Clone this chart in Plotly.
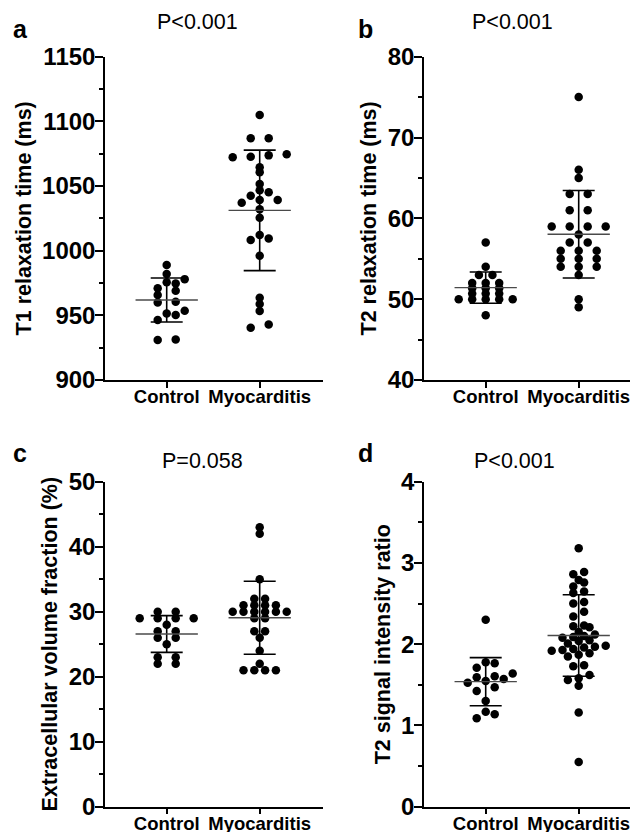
import numpy as np
import plotly.graph_objects as go

PAGE_W, PAGE_H = 638, 832
BODY = 8                      # default page margin of the browser
W, H = PAGE_W - BODY, PAGE_H - BODY
FONT = "Liberation Sans, Arial, Helvetica, sans-serif"

categories = ["Control", "Myocarditis"]

# Panel a: T1 relaxation time (ms)
t1_control = [989, 982, 978, 975.5, 974.7, 969, 971, 965.7, 960.5, 960,
              951.5, 953.6, 950.2, 946.4, 931, 931.4]
t1_myocarditis = [1105, 1087, 1087, 1074.5, 1073.7, 1072.7, 1072.2, 1064.5,
                  1060.6, 1051.5, 1046.7, 1045.1, 1042.5, 1039.2, 1039.2,
                  1037.1, 1032, 1025.5, 1009.5, 1008.2, 1012.1, 996.1,
                  963.6, 958.7, 953.3, 940.4, 943]

# Panel b: T2 relaxation time (ms)
t2_control = [57, 54, 53, 53, 52, 52, 52, 51.35, 51.35, 51.35, 50.7, 50.7,
              50.7, 50, 50, 50, 50, 50, 48]
t2_myocarditis = [75, 66, 65, 63, 63, 61, 61, 59, 59, 59, 59, 58, 57, 57,
                  56, 56, 56, 55, 55, 55, 54, 54, 54, 53, 50, 49]

# Panel c: Extracellular volume fraction (%)
ecv_control = [30, 30, 29, 29, 29, 29, 28, 27, 27, 26, 26, 25, 23, 23, 22, 22]
ecv_myocarditis = [43, 42, 35, 32, 32, 31, 31, 31, 31, 30, 30, 30, 30, 30, 30,
                   29, 29, 27, 27, 26, 24, 22, 21, 21, 21, 21]

# Panel d: T2 signal intensity ratio
t2sir_control = [2.30, 1.777, 1.765, 1.71, 1.64, 1.605, 1.593, 1.572, 1.547,
                 1.526, 1.469, 1.424, 1.30, 1.169, 1.137, 1.088]
t2sir_myocarditis = [3.18, 2.89, 2.86, 2.76, 2.79, 2.71, 2.63, 2.65, 2.52, 2.50,
                     2.40, 2.34, 2.21, 2.22, 2.23, 2.15, 2.08, 2.09, 2.10, 2.12,
                     2.04, 2.05, 1.96, 1.94, 1.97, 1.98, 2.01, 1.93, 1.92,
                     1.85, 1.87, 1.89, 1.73, 1.74, 1.62, 1.58, 1.56, 1.49,
                     1.16, 0.55]

panel_letters = ["a", "b", "c", "d"]
p_labels = ["P<0.001", "P<0.001", "P=0.058", "P<0.001"]
y_titles = ["T1 relaxation time (ms)", "T2 relaxation time (ms)",
            "Extracellular volume fraction (%)", "T2 signal intensity ratio"]
y_ranges = [[900, 1150], [40, 80], [0, 50], [0, 4]]
y_dticks = [50, 10, 10, 1]

groups = [(t1_control, t1_myocarditis), (t2_control, t2_myocarditis),
          (ecv_control, ecv_myocarditis), (t2sir_control, t2sir_myocarditis)]

# layout geometry (page pixels)
left_x = (105, 323)
right_x = (424, 637)
top_y = (56.7, 380.0)
bot_y = (481.7, 806.7)
cat_px = 93.0          # pixels between the two categories
lead_px = 61.7         # pixels from y-axis to first category

frames = [(left_x, top_y), (right_x, top_y), (left_x, bot_y), (right_x, bot_y)]
letter_pos = [(20, 29), (365, 29), (20, 453), (365, 453)]
p_pos = [(197.5, 22.5), (512, 22.5), (202, 461), (514, 461)]


def fx(px):
    return (px - BODY) / W


def fy(py):
    return 1 - (py - BODY) / H


def swarm_offsets(values, px_per_y, row_h=5.0, span=54.0, smax=18.0, clear=5.0):
    vals = np.asarray(values, float)
    order = np.argsort(vals, kind="stable")
    ypx = vals * px_per_y
    rows, cur = [], [order[0]]
    for idx in order[1:]:
        if ypx[idx] - ypx[cur[0]] < row_h:
            cur.append(idx)
        else:
            rows.append(cur)
            cur = [idx]
    rows.append(cur)
    maxn = max(len(r) for r in rows)
    s = smax if maxn <= 1 else min(smax, span / (maxn - 1))
    off = np.zeros(len(vals))
    placed = []
    for r in rows:
        n = len(r)
        base = [(i - (n - 1) / 2) * s for i in range(n)]
        chosen = 0.0
        for shift in [0, s / 2, -s / 2, s, -s, 1.5 * s, -1.5 * s]:
            ok = True
            for i, idx in enumerate(r):
                x = base[i] + shift
                for (qx, qy) in placed:
                    if np.hypot(x - qx, ypx[idx] - qy) < clear:
                        ok = False
                        break
                if not ok:
                    break
            if ok:
                chosen = shift
                break
            chosen = shift
        for i, idx in enumerate(r):
            off[idx] = base[i] + chosen
            placed.append((off[idx], ypx[idx]))
    return off


fig = go.Figure()
layout = dict(width=W, height=H, margin=dict(l=0, r=0, t=0, b=0, autoexpand=False),
              paper_bgcolor="white", plot_bgcolor="white", showlegend=False,
              font=dict(family=FONT, color="black"))
annotations = []

for k in range(4):
    (x0, x1), (y0, y1) = frames[k]
    xs = "" if k == 0 else str(k + 1)
    xref, yref = "x" + xs, "y" + xs
    xr0 = -lead_px / cat_px
    xr1 = xr0 + (x1 - x0) / cat_px
    yr = y_ranges[k]
    px_per_y = (y1 - y0) / (yr[1] - yr[0])

    for ci, vals in enumerate(groups[k]):
        off = swarm_offsets(vals, px_per_y)
        xv = ci + off / cat_px
        fig.add_trace(go.Scatter(x=xv, y=vals, mode="markers", xaxis=xref, yaxis=yref,
                                 marker=dict(size=8.5, color="black", line=dict(width=0)),
                                 hoverinfo="skip"))
        m = float(np.mean(vals))
        sd = float(np.std(vals, ddof=1))
        # SD error bar
        fig.add_trace(go.Scatter(x=[ci], y=[m], mode="markers", xaxis=xref, yaxis=yref,
                                 marker=dict(size=1, color="rgba(0,0,0,0)"),
                                 error_y=dict(type="data", array=[sd], visible=True,
                                              color="black", thickness=1.6, width=16),
                                 hoverinfo="skip"))
        # mean line
        fig.add_trace(go.Scatter(x=[ci - 0.335, ci + 0.335], y=[m, m], mode="lines",
                                 xaxis=xref, yaxis=yref,
                                 line=dict(color="#4a4a4a", width=1.4), hoverinfo="skip"))

    layout["xaxis" + xs] = dict(
        domain=[fx(x0), min(1.0, fx(x1))], range=[xr0, xr1], anchor=yref, automargin=False,
        tickmode="array", tickvals=[0, 1], ticktext=categories,
        ticks="outside", ticklen=6, tickwidth=1.5, tickcolor="black",
        ticklabelstandoff=-7,
        showline=True, linewidth=1.5, linecolor="black",
        showgrid=False, zeroline=False, fixedrange=True,
        tickfont=dict(family=FONT, size=18.5, color="black", weight="bold"))
    dt = y_dticks[k]
    layout["yaxis" + xs] = dict(
        domain=[fy(y1), fy(y0)], range=yr, anchor=xref, automargin=False,
        tickmode="linear", tick0=yr[0], dtick=dt,
        ticks="outside", ticklen=8, tickwidth=1.5, tickcolor="black",
        ticklabelstandoff=-5,
        minor=dict(ticks="outside", ticklen=4, tickwidth=1.5, tickcolor="black",
                   dtick=dt / 2, tick0=yr[0], showgrid=False),
        showline=True, linewidth=1.5, linecolor="black",
        showgrid=False, zeroline=False, fixedrange=True,
        tickfont=dict(family=FONT, size=24, color="black", weight="bold"),
        title=dict(text=y_titles[k], standoff=5,
                   font=dict(family=FONT, size=21.5, color="black", weight="bold")))

    lx, ly = letter_pos[k]
    annotations.append(dict(text=panel_letters[k], x=fx(lx), y=fy(ly),
                            xref="paper", yref="paper", showarrow=False,
                            xanchor="center", yanchor="middle",
                            font=dict(family=FONT, size=25, color="black", weight="bold")))
    px_, py_ = p_pos[k]
    annotations.append(dict(text=p_labels[k], x=fx(px_), y=fy(py_),
                            xref="paper", yref="paper", showarrow=False,
                            xanchor="center", yanchor="middle",
                            font=dict(family=FONT, size=21.5, color="black")))

layout["annotations"] = annotations
fig.update_layout(**layout)
fig.write_html("out.html")
